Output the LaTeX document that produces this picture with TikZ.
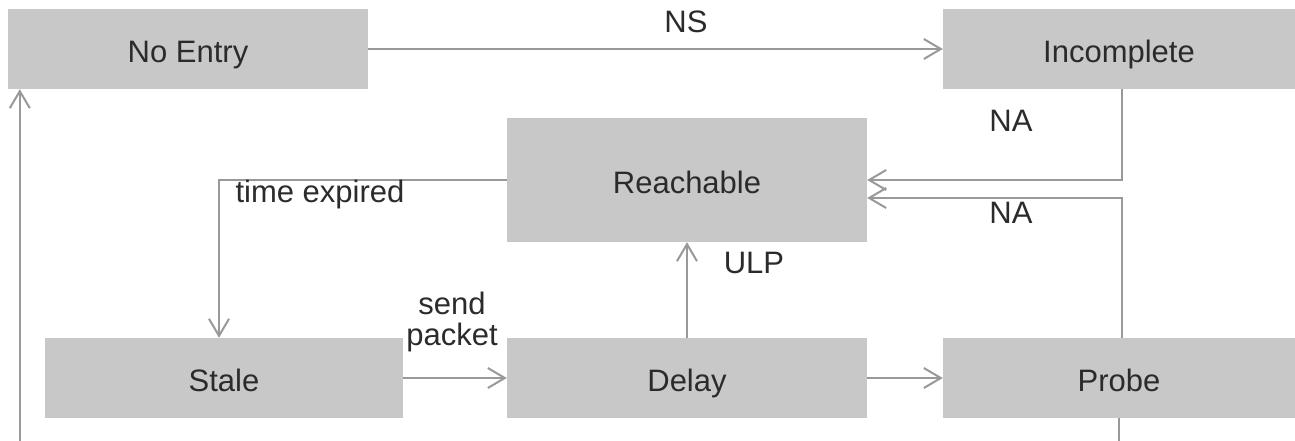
\documentclass[tikz,border=0pt]{standalone}
\usepackage{fontspec}
\setmainfont{Liberation Sans}
\usetikzlibrary{arrows.meta}
\definecolor{boxgray}{HTML}{C8C8C8}
\definecolor{linegray}{HTML}{999999}
\definecolor{txt}{HTML}{2B2B2B}
\begin{document}
\begin{tikzpicture}[x=1pt,y=-1pt,
  box/.style={fill=boxgray, draw=none, inner sep=0pt, text=txt, font=\fontsize{31}{35}\selectfont, text height=26pt, text depth=0pt},
  conn/.style={draw=linegray, line width=2pt, -{Straight Barb[length=17pt,width=20pt,line width=2pt]}},
  lbl/.style={text=txt, inner sep=0pt, font=\fontsize{31}{35}\selectfont, align=center}]
\clip (0,0) rectangle (1295,440);
\fill[white] (0,0) rectangle (1295,440);
% boxes
\node[box, minimum width=360pt, minimum height=80pt] (noentry) at (188,49) {No Entry};
\node[box, minimum width=352pt, minimum height=80pt] (incomplete) at (1119,49) {Incomplete};
\node[box, minimum width=360pt, minimum height=124pt] (reachable) at (687,180) {Reachable};
\node[box, minimum width=358pt, minimum height=80pt] (stale) at (224,378) {Stale};
\node[box, minimum width=360pt, minimum height=80pt] (delay) at (687,378) {Delay};
\node[box, minimum width=352pt, minimum height=80pt] (probe) at (1119,378) {Probe};
% connectors
\draw[conn] (noentry.east) -- (incomplete.west);
\draw[conn] ([xshift=3pt]incomplete.south) |- (reachable.east);
\draw[conn] ([xshift=3pt]probe.north) |- ([yshift=-18pt]reachable.east);
\draw[conn] (reachable.west) -| ([xshift=-5pt]stale.north);
\draw[conn] (stale.east) -- (delay.west);
\draw[conn] (delay.north) -- (reachable.south);
\draw[conn] (delay.east) -- (probe.west);
\coordinate (loopbr) at (1119,460);
\draw[conn] (probe.south) -- (loopbr) -| ([xshift=12pt]noentry.south west);
% labels
\node[lbl] (lns) at (686,22) {NS};
\node[lbl] (lna1) at (1011,121) {NA};
\node[lbl] (lna2) at (1011,213) {NA};
\node[lbl] (lte) at (320,194) {time expired};
\node[lbl] (lulp) at (754,263) {ULP};
\node[lbl] (lsp) at (452,322) {send\\[-4pt]packet};
\end{tikzpicture}
\end{document}
